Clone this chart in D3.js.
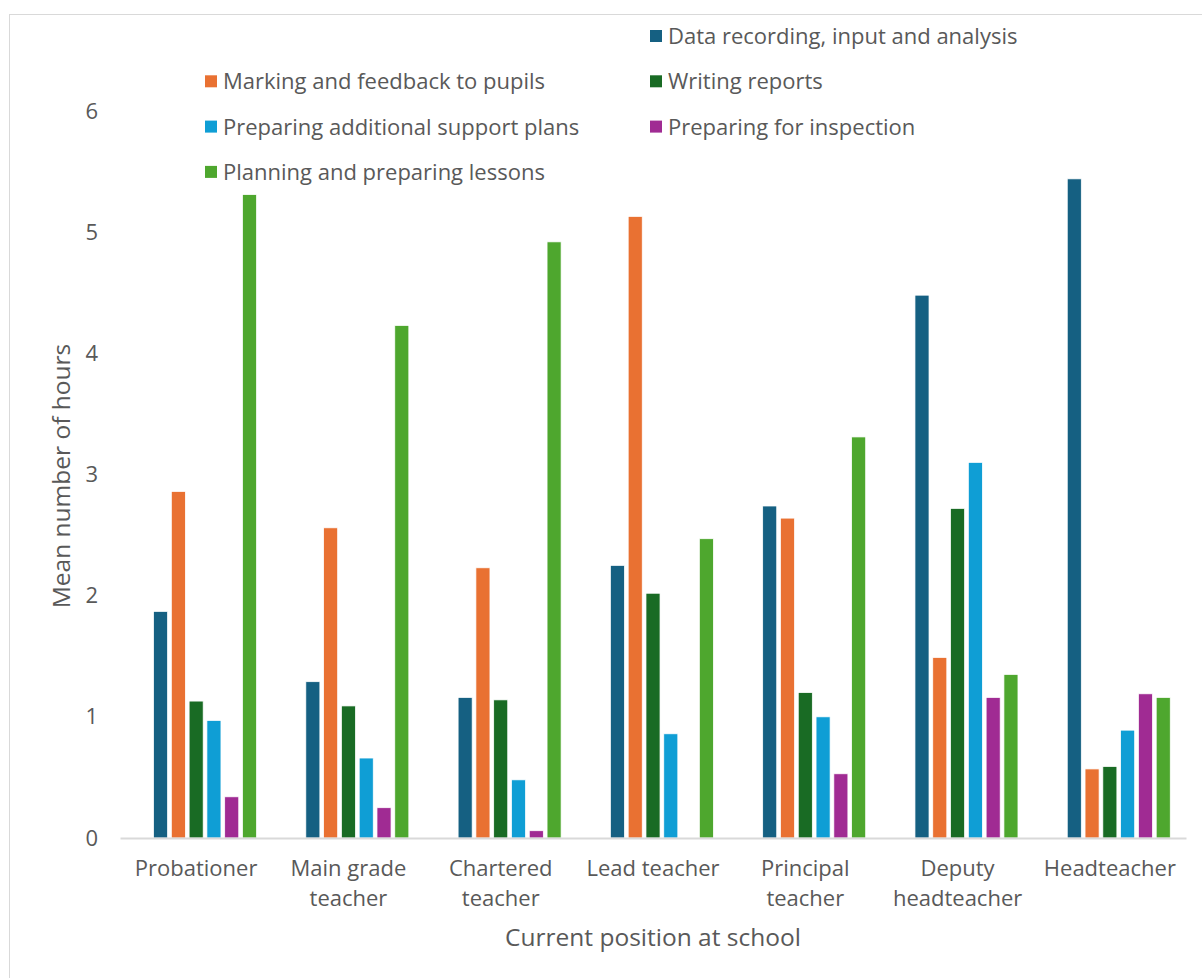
<!DOCTYPE html>
<html>
<head>
<meta charset="utf-8">
<script src="https://cdn.jsdelivr.net/npm/d3@7"></script>
<style>
  body { margin: 0; background: #fff; }
  svg text { font-family: "Open Sans", "Liberation Sans", sans-serif; fill: #595959; }
</style>
</head>
<body>
<svg id="drawing_region"></svg>
<script>
// categories along the x axis (split into wrapped lines for the tick labels)
const categories = ["Probationer", "Main grade teacher", "Chartered teacher", "Lead teacher",
                    "Principal teacher", "Deputy headteacher", "Headteacher"];
const categoryLines = [["Probationer"], ["Main grade", "teacher"], ["Chartered", "teacher"], ["Lead teacher"],
                       ["Principal", "teacher"], ["Deputy", "headteacher"], ["Headteacher"]];

// series (the chart has an empty first series that keeps a blank slot in each cluster)
const seriesNames = ["", "Data recording, input and analysis", "Marking and feedback to pupils",
                     "Writing reports", "Preparing additional support plans",
                     "Preparing for inspection", "Planning and preparing lessons"];
const seriesColors = ["none", "#156082", "#e97132", "#196b24", "#0f9ed5", "#a02b93", "#4ea72e"];

const blankSeries    = [null, null, null, null, null, null, null];
const dataRecording  = [1.87, 1.29, 1.16, 2.25, 2.74, 4.48, 5.44];
const marking        = [2.86, 2.56, 2.23, 5.13, 2.64, 1.49, 0.57];
const writingReports = [1.13, 1.09, 1.14, 2.02, 1.20, 2.72, 0.59];
const supportPlans   = [0.97, 0.66, 0.48, 0.86, 1.00, 3.10, 0.89];
const inspection     = [0.34, 0.25, 0.06, null, 0.53, 1.16, 1.19];
const planning       = [5.31, 4.23, 4.92, 2.47, 3.31, 1.35, 1.16];

const seriesValues = [blankSeries, dataRecording, marking, writingReports, supportPlans, inspection, planning];
const yTicks = [0, 1, 2, 3, 4, 5, 6];

const width = 1202, height = 978;
const margin = {top: 111, right: 16, bottom: 140, left: 120};

const svg = d3.select('#drawing_region')
    .attr('width', width)
    .attr('height', height);

// chart area border
svg.append('rect')
    .attr('x', 9.5).attr('y', 14.5)
    .attr('width', 1220).attr('height', 1000)
    .attr('fill', '#fff')
    .attr('stroke', '#d9d9d9')
    .attr('stroke-width', 1);

const xscale = d3.scaleBand()
    .domain(categories)
    .range([margin.left, width - margin.right]);

const x1 = d3.scaleBand()
    .domain(seriesNames.map((d, i) => i))
    .range([0, xscale.bandwidth()])
    .paddingInner(0.21)
    .paddingOuter(0.885);

const yscale = d3.scaleLinear()
    .domain([0, 6])
    .range([height - margin.bottom, margin.top]);

// y axis labels (no line, no ticks)
const yaxis = d3.axisLeft(yscale)
    .tickValues(yTicks)
    .tickFormat(d3.format('d'))
    .tickSize(0)
    .tickPadding(22);

const yaxis_group = svg.append('g')
    .attr('transform', `translate(${margin.left}, 0)`)
    .call(yaxis);
yaxis_group.select('.domain').remove();
yaxis_group.selectAll('text')
    .style('font-size', '22px')
    .attr('fill', '#595959');

// bars
const groups = svg.append('g')
    .selectAll('g')
    .data(categories)
    .join('g')
    .attr('transform', d => `translate(${xscale(d)}, 0)`);

groups.selectAll('rect')
    .data((c, ci) => seriesValues.map((vals, si) => ({si: si, value: vals[ci]})))
    .join('rect')
    .filter(d => d.value != null)
    .attr('x', d => x1(d.si))
    .attr('y', d => yscale(d.value))
    .attr('width', x1.bandwidth())
    .attr('height', d => yscale(0) - yscale(d.value))
    .attr('fill', d => seriesColors[d.si])
    .attr('stroke', '#fff')
    .attr('stroke-width', 0.75);

// x axis
const xaxis = d3.axisBottom(xscale)
    .tickSize(0)
    .tickFormat('');

const xaxis_group = svg.append('g')
    .attr('transform', `translate(0, ${yscale(0)})`)
    .call(xaxis);
xaxis_group.select('.domain')
    .attr('stroke', '#d9d9d9')
    .attr('stroke-width', 2);

xaxis_group.selectAll('.tick')
    .each(function(d, i) {
        const t = d3.select(this).append('text')
            .attr('text-anchor', 'middle')
            .attr('fill', '#595959')
            .style('font-size', '22px');
        categoryLines[i].forEach((line, li) => {
            t.append('tspan')
                .attr('x', 0)
                .attr('y', 38 + li * 30)
                .text(line);
        });
    });

// axis titles
svg.append('text')
    .attr('x', 653).attr('y', 946)
    .attr('text-anchor', 'middle')
    .style('font-size', '24.5px')
    .text('Current position at school');

svg.append('text')
    .attr('transform', 'translate(70, 476) rotate(-90)')
    .attr('text-anchor', 'middle')
    .style('font-size', '24.5px')
    .text('Mean number of hours');

// legend, two columns, row-major, first slot is the blank series
const legend = svg.append('g');
const legendItems = legend.selectAll('g')
    .data(seriesNames.map((name, i) => ({name: name, i: i})).filter(d => d.name !== ''))
    .join('g')
    .attr('transform', d => `translate(${d.i % 2 === 0 ? 205 : 650}, ${36 + Math.floor(d.i / 2) * 45.3})`);

legendItems.append('rect')
    .attr('x', 0).attr('y', -6)
    .attr('width', 12).attr('height', 12)
    .attr('fill', d => seriesColors[d.i]);

legendItems.append('text')
    .attr('x', 18).attr('y', 8)
    .style('font-size', '22px')
    .text(d => d.name);
</script>
</body>
</html>
